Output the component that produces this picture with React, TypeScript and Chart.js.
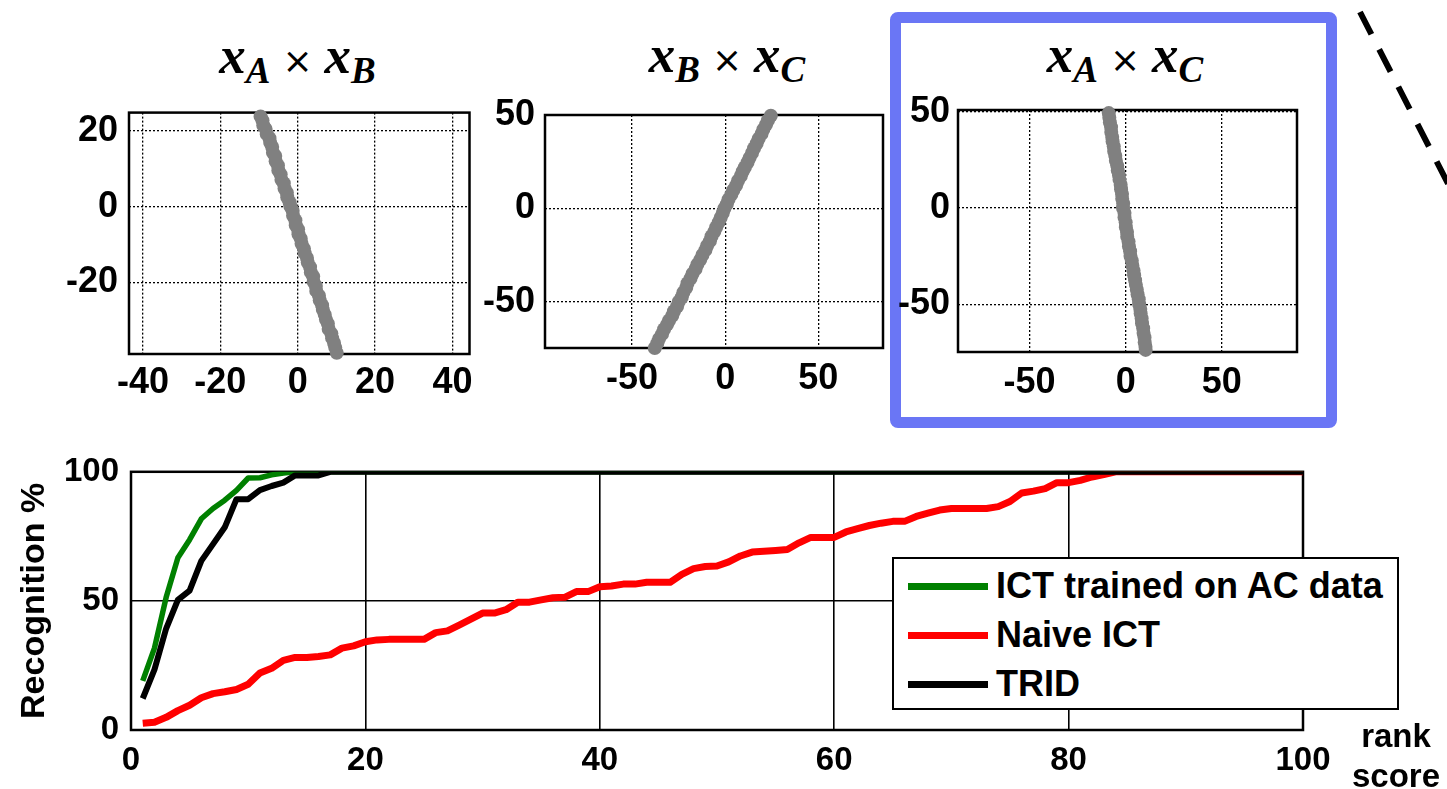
import React, { useEffect, useRef } from 'react';
import { Chart, registerables } from 'chart.js';

Chart.register(...registerables);

const SANS = "'Liberation Sans', Arial, Helvetica, sans-serif";
const SERIF = "'Liberation Serif', 'DejaVu Serif', serif";

// ---------- Top panel data ----------
// x_A × x_B
const abX = [-9.6, -9.1, -8.9, -8.3, -8.0, -7.3, -7.1, -6.6, -6.4, -5.8, -5.7, -5.1, -5.0, -4.4, -4.2, -3.6, -3.4, -2.8, -2.7, -2.1, -1.9, -1.3, -1.2, -0.6, -0.5, 0.1, 0.2, 0.8, 1.0, 1.6, 1.8, 2.4, 2.6, 3.2, 3.4, 4.0, 4.1, 4.7, 4.8, 5.5, 5.7, 6.3, 6.5, 7.0, 7.3, 7.8, 8.0, 8.7, 8.9, 9.4, 9.7, 10.1];
const abY = [23.9, 22.8, 21.5, 20.6, 19.2, 18.1, 16.9, 15.8, 14.3, 13.4, 12.0, 10.9, 9.6, 8.5, 7.1, 6.2, 4.8, 3.7, 2.5, 1.2, 0.1, -1.1, -2.4, -3.6, -4.9, -6.0, -7.3, -8.5, -9.8, -11.1, -12.3, -13.6, -14.8, -16.0, -17.4, -18.5, -19.9, -21.0, -22.3, -23.6, -24.8, -26.1, -27.3, -28.6, -29.9, -31.0, -32.4, -33.6, -34.8, -36.1, -37.3, -38.7];

// x_B × x_C
const bcX = [-37.8, -36.4, -35.5, -33.9, -32.8, -31.2, -30.1, -28.4, -27.5, -25.8, -24.9, -23.3, -22.4, -20.9, -20.2, -18.6, -17.5, -15.9, -14.9, -13.4, -12.2, -10.6, -9.7, -8.2, -7.3, -5.8, -4.8, -3.5, -2.4, -1.3, -0.4, 0.9, 1.8, 3.3, 4.4, 5.9, 6.9, 8.4, 9.4, 10.6, 12.0, 13.1, 14.4, 15.5, 16.9, 18.0, 19.5, 20.5, 21.9, 23.0, 24.5];
const bcY = [-74.5, -72.0, -69.6, -67.1, -64.5, -62.0, -59.8, -57.3, -54.9, -52.3, -49.8, -47.4, -44.8, -42.3, -39.9, -37.4, -34.8, -32.3, -29.8, -27.4, -24.8, -22.2, -19.9, -17.4, -14.8, -12.3, -9.9, -7.4, -4.9, -2.4, 0.0, 2.4, 4.9, 7.5, 9.9, 12.4, 14.9, 17.4, 19.8, 22.1, 24.6, 27.1, 29.7, 32.2, 34.8, 37.4, 39.9, 42.3, 44.8, 47.2, 49.6];

// x_A × x_C
const acX = [-8.8, -8.5, -8.2, -7.6, -7.5, -7.0, -6.8, -6.2, -6.0, -5.4, -5.1, -4.4, -4.1, -3.5, -3.2, -2.6, -2.4, -1.9, -1.8, -1.3, -1.4, -0.6, -0.6, 0.0, 0.1, 0.7, 0.8, 1.5, 1.7, 2.3, 2.5, 3.2, 3.5, 4.1, 4.4, 4.9, 5.3, 5.8, 6.2, 6.8, 7.0, 7.6, 7.8, 8.3, 8.5, 9.1, 9.3, 9.8, 9.9, 10.3, 10.4];
const acY = [49.4, 47.0, 44.5, 42.1, 39.6, 37.0, 34.6, 32.1, 29.7, 27.2, 24.6, 22.1, 19.6, 17.2, 14.7, 12.2, 9.8, 7.3, 4.8, 2.4, 0.0, -2.5, -4.9, -7.4, -9.9, -12.4, -14.9, -17.4, -19.9, -22.4, -24.9, -27.4, -29.9, -32.5, -34.9, -37.5, -39.9, -42.4, -44.9, -47.4, -49.9, -52.4, -54.8, -57.4, -59.8, -62.4, -64.9, -67.3, -69.8, -72.1, -73.7];

const abXTicks = [-40, -20, 0, 20, 40];
const abYTicks = [-20, 0, 20];
const bcXTicks = [-50, 0, 50];
const bcYTicks = [-50, 0, 50];
const acXTicks = [-50, 0, 50];
const acYTicks = [-50, 0, 50];

// ---------- Bottom panel data ----------
const ranks = [1, 2, 3, 4, 5, 6, 7, 8, 9, 10, 11, 12, 13, 14, 15, 16, 17, 18, 19, 20, 21, 22, 23, 24, 25, 26, 27, 28, 29, 30, 31, 32, 33, 34, 35, 36, 37, 38, 39, 40, 41, 42, 43, 44, 45, 46, 47, 48, 49, 50, 51, 52, 53, 54, 55, 56, 57, 58, 59, 60, 61, 62, 63, 64, 65, 66, 67, 68, 69, 70, 71, 72, 73, 74, 75, 76, 77, 78, 79, 80, 81, 82, 83, 84, 85, 86, 87, 88, 89, 90, 91, 92, 93, 94, 95, 96, 97, 98, 99, 100];

const ictAC = [19.0, 31.7, 51.4, 66.7, 73.7, 81.8, 85.8, 89.0, 92.8, 97.6, 97.7, 98.8, 99.5, 100, 100, 100, 100, 100, 100, 100, 100, 100, 100, 100, 100, 100, 100, 100, 100, 100, 100, 100, 100, 100, 100, 100, 100, 100, 100, 100, 100, 100, 100, 100, 100, 100, 100, 100, 100, 100, 100, 100, 100, 100, 100, 100, 100, 100, 100, 100, 100, 100, 100, 100, 100, 100, 100, 100, 100, 100, 100, 100, 100, 100, 100, 100, 100, 100, 100, 100, 100, 100, 100, 100, 100, 100, 100, 100, 100, 100, 100, 100, 100, 100, 100, 100, 100, 100, 100, 100];

const naiveICT = [2.6, 3.0, 4.9, 7.5, 9.6, 12.5, 14.1, 14.8, 15.7, 17.7, 22.1, 23.9, 27.0, 28.1, 28.1, 28.5, 29.1, 31.7, 32.6, 34.2, 34.9, 35.1, 35.1, 35.1, 35.1, 37.7, 38.4, 40.6, 42.9, 45.3, 45.3, 46.6, 49.5, 49.5, 50.4, 51.2, 51.4, 53.6, 53.6, 55.5, 55.8, 56.5, 56.5, 57.2, 57.2, 57.2, 60.3, 62.5, 63.3, 63.5, 65.1, 67.4, 68.9, 69.2, 69.5, 69.9, 72.5, 74.6, 74.6, 74.6, 76.7, 78.0, 79.2, 80.1, 80.8, 80.8, 82.7, 84.0, 85.2, 85.8, 85.8, 85.8, 85.8, 86.5, 88.5, 91.8, 92.5, 93.5, 95.8, 95.8, 96.7, 98.0, 98.9, 100, 100, 100, 100, 100, 100, 100, 100, 100, 100, 100, 100, 100, 100, 100, 100, 100];

const trid = [12.2, 23.4, 39.3, 50.4, 54.0, 65.5, 72.0, 78.5, 89.4, 89.4, 92.9, 94.5, 95.8, 98.6, 98.6, 98.6, 100, 100, 100, 100, 100, 100, 100, 100, 100, 100, 100, 100, 100, 100, 100, 100, 100, 100, 100, 100, 100, 100, 100, 100, 100, 100, 100, 100, 100, 100, 100, 100, 100, 100, 100, 100, 100, 100, 100, 100, 100, 100, 100, 100, 100, 100, 100, 100, 100, 100, 100, 100, 100, 100, 100, 100, 100, 100, 100, 100, 100, 100, 100, 100, 100, 100, 100, 100, 100, 100, 100, 100, 100, 100, 100, 100, 100, 100, 100, 100, 100, 100, 100, 100];

const rankTicks = [0, 20, 40, 60, 80, 100];
const recTicks = [0, 50, 100];

const seriesLabels = ['ICT trained on AC data', 'Naive ICT', 'TRID'];
const seriesColors = ['#008000', '#ff0000', '#000000'];

// ---------- helpers ----------
const boxPlugin = {
  id: 'box',
  beforeDatasetsDraw(chart: any, _args: any, opts: any) {
    const { ctx, chartArea: a } = chart;
    ctx.save();
    ctx.strokeStyle = '#000';
    ctx.lineWidth = opts.width || 2.5;
    ctx.strokeRect(a.left, a.top, a.right - a.left, a.bottom - a.top);
    ctx.restore();
  },
};

const mainTickFont = { family: SANS, size: 33, weight: 'bold' as const };
const topTickFont = { family: SANS, size: 36, weight: 'bold' as const };

function fixedTicks(values: number[]) {
  return (scale: any) => {
    scale.ticks = values.map((v) => ({ value: v }));
  };
}

function scatterConfig(p: any): any {
  return {
    type: 'scatter',
    data: {
      datasets: [
        {
          data: p.xs.map((x: number, i: number) => ({ x, y: p.ys[i] })),
          backgroundColor: '#808080',
          borderWidth: 0,
          pointRadius: 7,
          clip: false,
        },
      ],
    },
    options: {
      responsive: false,
      animation: false,
      devicePixelRatio: 1,
      events: [],
      layout: { padding: { top: p.padTop, right: p.padRight, left: 0, bottom: 0 } },
      plugins: { legend: { display: false }, tooltip: { enabled: false }, box: { width: 2.5 } },
      scales: {
        x: {
          type: 'linear',
          min: p.xMin,
          max: p.xMax,
          afterBuildTicks: fixedTicks(p.xTicks),
          afterFit: (s: any) => {
            s.height = p.xAxisH;
          },
          grid: { color: '#000', lineWidth: 1.3, drawTicks: false },
          border: { display: false, dash: [2, 2] },
          ticks: {
            color: '#000',
            font: topTickFont,
            padding: p.xPad,
            maxRotation: 0,
            autoSkip: false,
            callback: (v: any) => String(v),
          },
        },
        y: {
          type: 'linear',
          min: p.yMin,
          max: p.yMax,
          afterBuildTicks: fixedTicks(p.yTicks),
          afterFit: (s: any) => {
            s.width = p.yAxisW;
          },
          grid: { color: '#000', lineWidth: 1.3, drawTicks: false },
          border: { display: false, dash: [2, 2] },
          ticks: {
            color: '#000',
            font: topTickFont,
            padding: p.yPad,
            autoSkip: false,
            callback: (v: any) => String(v),
          },
        },
      },
    },
    plugins: [boxPlugin],
  };
}

function mainConfig(): any {
  const series = [ictAC, naiveICT, trid];
  const widths = [5.5, 7, 6];
  const orders = [2, 1, 0];
  return {
    type: 'line',
    data: {
      datasets: series.map((vals, k) => ({
        label: seriesLabels[k],
        data: ranks.map((r, i) => ({ x: r, y: vals[i] })),
        borderColor: seriesColors[k],
        backgroundColor: seriesColors[k],
        borderWidth: widths[k],
        order: orders[k],
        pointRadius: 0,
        tension: 0,
        fill: false,
        borderJoinStyle: 'round',
      })),
    },
    options: {
      responsive: false,
      animation: false,
      devicePixelRatio: 1,
      events: [],
      layout: { padding: { top: 28, right: 144, left: 0, bottom: 0 } },
      plugins: { legend: { display: false }, tooltip: { enabled: false }, box: { width: 2.5 } },
      scales: {
        x: {
          type: 'linear',
          min: 0,
          max: 100,
          afterBuildTicks: fixedTicks(rankTicks),
          afterFit: (s: any) => {
            s.height = 59;
          },
          grid: { color: '#000', lineWidth: 1.6, drawTicks: false },
          border: { display: false },
          ticks: {
            color: '#000',
            font: mainTickFont,
            padding: 11,
            maxRotation: 0,
            autoSkip: false,
            callback: (v: any) => String(v),
          },
        },
        y: {
          type: 'linear',
          min: 0,
          max: 100,
          afterBuildTicks: fixedTicks(recTicks),
          afterFit: (s: any) => {
            s.width = 131;
          },
          grid: { color: '#000', lineWidth: 1.6, drawTicks: false },
          border: { display: false },
          title: {
            display: true,
            text: 'Recognition %',
            color: '#000',
            font: { family: SANS, size: 34, weight: 'bold' },
            padding: { top: 14, bottom: 0 },
          },
          ticks: {
            color: '#000',
            font: mainTickFont,
            padding: 12,
            autoSkip: false,
            callback: (v: any) => String(v),
          },
        },
      },
    },
    plugins: [boxPlugin],
  };
}

function ChartCanvas({ left, top, width, height, make }: any) {
  const ref = useRef<HTMLCanvasElement>(null);
  useEffect(() => {
    const chart = new Chart(ref.current as HTMLCanvasElement, make());
    return () => chart.destroy();
  }, []);
  return (
    <canvas
      ref={ref}
      width={width}
      height={height}
      style={{ position: 'absolute', left, top, width, height, display: 'block' }}
    />
  );
}

function MathTitle({ cx, baseline, a, b }: any) {
  const xs: any = { fontStyle: 'italic', fontWeight: 'bold' };
  const sub: any = {
    fontSize: 37,
    fontStyle: 'italic',
    fontWeight: 'bold',
    verticalAlign: '-10px',
    lineHeight: 0,
  };
  return (
    <div
      style={{
        position: 'absolute',
        left: cx - 150,
        width: 300,
        top: baseline - 44,
        height: 56,
        textAlign: 'center',
        fontFamily: SERIF,
        fontSize: 53,
        lineHeight: '53px',
        whiteSpace: 'nowrap',
        color: '#000',
      }}
    >
      <span style={xs}>x</span>
      <span style={sub}>{a}</span>
      <span style={{ fontFamily: "'DejaVu Sans', sans-serif", fontSize: 36, margin: '0 12px', fontWeight: 'normal' }}>×</span>
      <span style={xs}>x</span>
      <span style={sub}>{b}</span>
    </div>
  );
}

export default function App() {
  const legendRows = [586, 635, 684];
  return (
    <div
      style={{
        position: 'fixed',
        left: 0,
        top: 0,
        width: 1447,
        height: 789,
        background: '#fff',
        overflow: 'hidden',
      }}
    >
      {/* blue highlight box */}
      <div
        style={{
          position: 'absolute',
          left: 890,
          top: 12,
          width: 447,
          height: 416,
          border: '11px solid #6A76F5',
          borderRadius: 8,
          boxSizing: 'border-box',
        }}
      />

      <MathTitle cx={297.5} baseline={73} a="A" b="B" />
      <MathTitle cx={727} baseline={72} a="B" b="C" />
      <MathTitle cx={1125} baseline={72} a="A" b="C" />

      <ChartCanvas
        left={30}
        top={80}
        width={450}
        height={330}
        make={() =>
          scatterConfig({
            xs: abX, ys: abY, xMin: -43.6, xMax: 44.4, yMin: -39, yMax: 24.9,
            xTicks: abXTicks, yTicks: abYTicks,
            padTop: 28, padRight: 10, yAxisW: 99, xAxisH: 56, xPad: 7, yPad: 11,
          })
        }
      />
      <ChartCanvas
        left={480}
        top={80}
        width={410}
        height={330}
        make={() =>
          scatterConfig({
            xs: bcX, ys: bcY, xMin: -96.7, xMax: 84.7, yMin: -74.5, yMax: 50,
            xTicks: bcXTicks, yTicks: bcYTicks,
            padTop: 35, padRight: 4, yAxisW: 65, xAxisH: 62, xPad: 9, yPad: 10,
          })
        }
      />
      <ChartCanvas
        left={895}
        top={80}
        width={425}
        height={330}
        make={() =>
          scatterConfig({
            xs: acX, ys: acY, xMin: -87.2, xMax: 89.1, yMin: -74.8, yMax: 51,
            xTicks: acXTicks, yTicks: acYTicks,
            padTop: 30, padRight: 23, yAxisW: 63, xAxisH: 58, xPad: 9, yPad: 8,
          })
        }
      />

      {/* dashed connector at top right */}
      <svg
        width={1447}
        height={789}
        style={{ position: 'absolute', left: 0, top: 0, pointerEvents: 'none' }}
      >
        <line x1={1360} y1={12} x2={1462} y2={211} stroke="#000" strokeWidth={6} strokeDasharray="25 17" />
      </svg>

      <ChartCanvas left={0} top={440} width={1447} height={349} make={mainConfig} />

      {/* legend */}
      <div
        style={{
          position: 'absolute',
          left: 892,
          top: 557,
          width: 507,
          height: 153,
          border: '2px solid #000',
          background: '#fff',
          boxSizing: 'border-box',
        }}
      />
      {seriesLabels.map((lab, k) => (
        <React.Fragment key={lab}>
          <div
            style={{
              position: 'absolute',
              left: 908,
              top: legendRows[k] - 3.5,
              width: 80,
              height: 7,
              background: seriesColors[k],
            }}
          />
          <div
            style={{
              position: 'absolute',
              left: 996,
              top: legendRows[k] - 20,
              height: 40,
              lineHeight: '40px',
              fontFamily: SANS,
              fontWeight: 'bold',
              fontSize: 36,
              color: '#000',
              whiteSpace: 'nowrap',
            }}
          >
            {lab}
          </div>
        </React.Fragment>
      ))}

      {/* x-axis label */}
      <div
        style={{
          position: 'absolute',
          left: 1346,
          width: 100,
          top: 716,
          textAlign: 'center',
          fontFamily: SANS,
          fontWeight: 'bold',
          fontSize: 33,
          lineHeight: '40px',
          color: '#000',
          whiteSpace: 'nowrap',
        }}
      >
        rank
        <br />
        score
      </div>
    </div>
  );
}
